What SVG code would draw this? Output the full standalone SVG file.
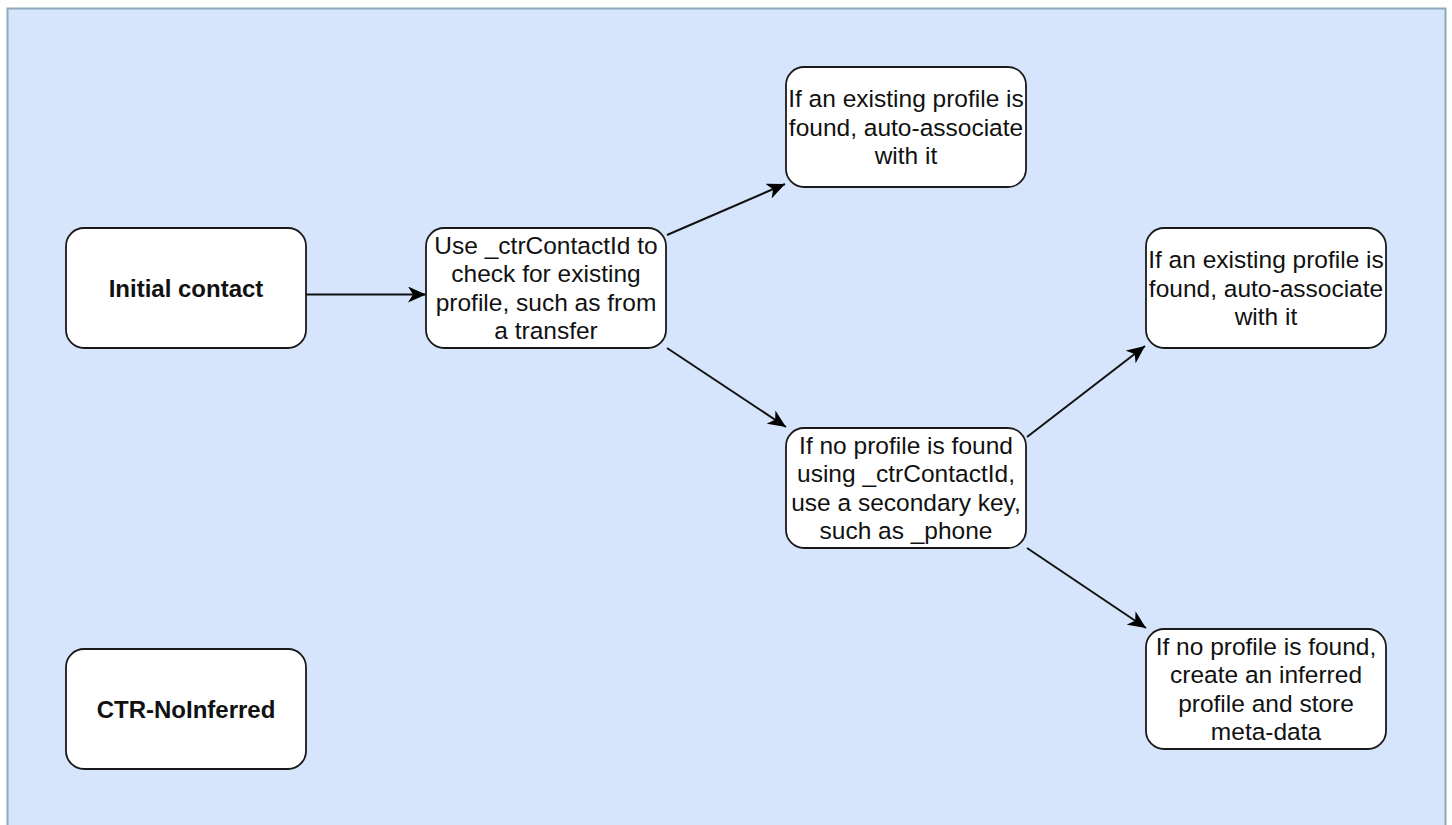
<svg xmlns="http://www.w3.org/2000/svg" width="1452" height="825" viewBox="0 0 1452 825">
<defs>
<marker id="arr" markerUnits="userSpaceOnUse" markerWidth="20" markerHeight="16" refX="18" refY="8" orient="auto" viewBox="0 0 20 16">
<path d="M0,0 L18,8 L0,16 L5,8 Z" fill="#000"/>
</marker>
<style>
.bg{fill:#d6e5fb;stroke:#8ea9b8;stroke-width:2}
.box{fill:#fff;stroke:#1a1a1a;stroke-width:1.8}
.t{font-family:"Liberation Sans",Arial,sans-serif;font-size:24.5px;fill:#111;text-anchor:middle}
.b{font-weight:bold;font-size:24px}
.c{stroke:#111;stroke-width:2;fill:none;marker-end:url(#arr)}
</style>
</defs>
<rect class="bg" x="7.5" y="8.5" width="1438" height="830"/>
<g id="connectors">
<line class="c" x1="306" y1="294.5" x2="426" y2="294.5"/>
<line class="c" x1="667" y1="235" x2="785" y2="184"/>
<line class="c" x1="667" y1="348" x2="786" y2="427"/>
<line class="c" x1="1027" y1="437" x2="1145" y2="346"/>
<line class="c" x1="1027" y1="548" x2="1146" y2="628"/>
</g>
<g id="initial">
<rect class="box" x="66" y="228" width="240" height="120" rx="18"/>
<text class="t b" x="186" y="297">Initial contact</text>
</g>
<g id="use">
<rect class="box" x="426" y="228" width="240" height="120" rx="18"/>
<text class="t" x="546" y="253.5">Use _ctrContactId to</text>
<text class="t" x="546" y="282">check for existing</text>
<text class="t" x="546" y="310.5">profile, such as from</text>
<text class="t" x="546" y="339">a transfer</text>
</g>
<g id="found1">
<rect class="box" x="786" y="67" width="240" height="120" rx="18"/>
<text class="t" x="906" y="107">If an existing profile is</text>
<text class="t" x="906" y="135.5">found, auto-associate</text>
<text class="t" x="906" y="164">with it</text>
</g>
<g id="noprofile">
<rect class="box" x="786" y="428" width="240" height="120" rx="18"/>
<text class="t" x="906" y="453.5">If no profile is found</text>
<text class="t" x="906" y="482">using _ctrContactId,</text>
<text class="t" x="906" y="510.5">use a secondary key,</text>
<text class="t" x="906" y="539">such as _phone</text>
</g>
<g id="found2">
<rect class="box" x="1146" y="228" width="240" height="120" rx="18"/>
<text class="t" x="1266" y="268">If an existing profile is</text>
<text class="t" x="1266" y="296.5">found, auto-associate</text>
<text class="t" x="1266" y="325">with it</text>
</g>
<g id="inferred">
<rect class="box" x="1146" y="629" width="240" height="120" rx="18"/>
<text class="t" x="1266" y="654.5">If no profile is found,</text>
<text class="t" x="1266" y="683">create an inferred</text>
<text class="t" x="1266" y="711.5">profile and store</text>
<text class="t" x="1266" y="740">meta-data</text>
</g>
<g id="ctr">
<rect class="box" x="66" y="649" width="240" height="120" rx="18"/>
<text class="t b" x="186" y="718">CTR-NoInferred</text>
</g>
</svg>
